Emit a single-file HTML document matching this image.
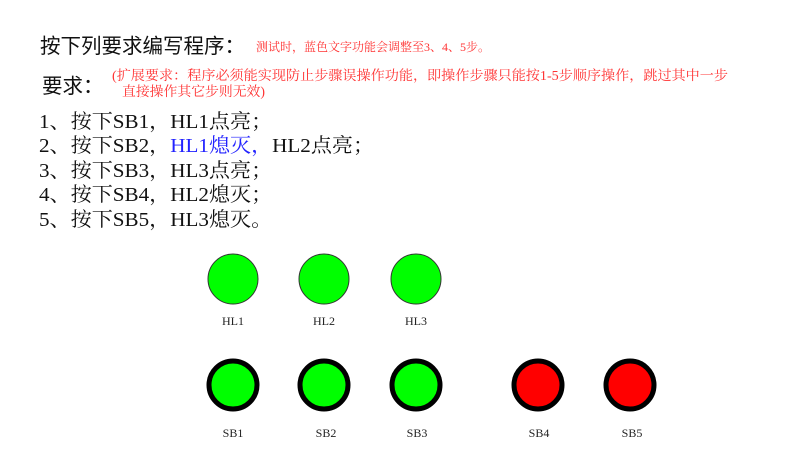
<!DOCTYPE html>
<html><head><meta charset="utf-8"><style>
html,body{margin:0;padding:0;background:#fff;width:800px;height:449px;overflow:hidden}
svg text{font-family:"Liberation Serif","Noto Serif CJK SC",serif}
</style></head><body>
<svg width="800" height="449" xmlns="http://www.w3.org/2000/svg">
<text x="40" y="53" font-size="20.5" style="font-family:'Liberation Sans','Noto Sans CJK SC',sans-serif" fill="#111">按下列要求编写程序：</text>
<text x="256" y="51" font-size="12" fill="#f33">测试时，蓝色文字功能会调整至3、4、5步。</text>
<text x="42" y="93" font-size="20.5" style="font-family:'Liberation Sans','Noto Sans CJK SC',sans-serif" fill="#111">要求：</text>
<text x="112" y="80" font-size="13.5" textLength="616" lengthAdjust="spacingAndGlyphs" fill="#f33">(扩展要求：程序必须能实现防止步骤误操作功能，即操作步骤只能按1-5步顺序操作，跳过其中一步</text>
<text x="122" y="96" font-size="13.5" textLength="143" lengthAdjust="spacingAndGlyphs" fill="#f33">直接操作其它步则无效)</text>
<g font-size="20" fill="#111" transform="translate(39,0) scale(1.055,1)">
<text x="0" y="128">1、按下SB1，HL1点亮；</text>
<text x="0" y="152">2、按下SB2，<tspan fill="#22f">HL1熄灭，</tspan>HL2点亮；</text>
<text x="0" y="177">3、按下SB3，HL3点亮；</text>
<text x="0" y="201">4、按下SB4，HL2熄灭；</text>
<text x="0" y="226">5、按下SB5，HL3熄灭。</text>
</g>
<g fill="#0f0" stroke="#333" stroke-width="1">
<circle cx="233" cy="279" r="25"/><circle cx="324" cy="279" r="25"/><circle cx="416" cy="279" r="25"/>
</g>
<g stroke="#000" stroke-width="5">
<circle cx="233" cy="385" r="24" fill="#0f0"/><circle cx="324" cy="385" r="24" fill="#0f0"/><circle cx="416" cy="385" r="24" fill="#0f0"/>
<circle cx="538" cy="385" r="24" fill="#f00"/><circle cx="630" cy="385" r="24" fill="#f00"/>
</g>
<g font-size="12" fill="#222" text-anchor="middle">
<text x="233" y="325">HL1</text><text x="324" y="325">HL2</text><text x="416" y="325">HL3</text>
<text x="233" y="437">SB1</text><text x="326" y="437">SB2</text><text x="417" y="437">SB3</text><text x="539" y="437">SB4</text><text x="632" y="437">SB5</text>
</g>
</svg>
</body></html>
